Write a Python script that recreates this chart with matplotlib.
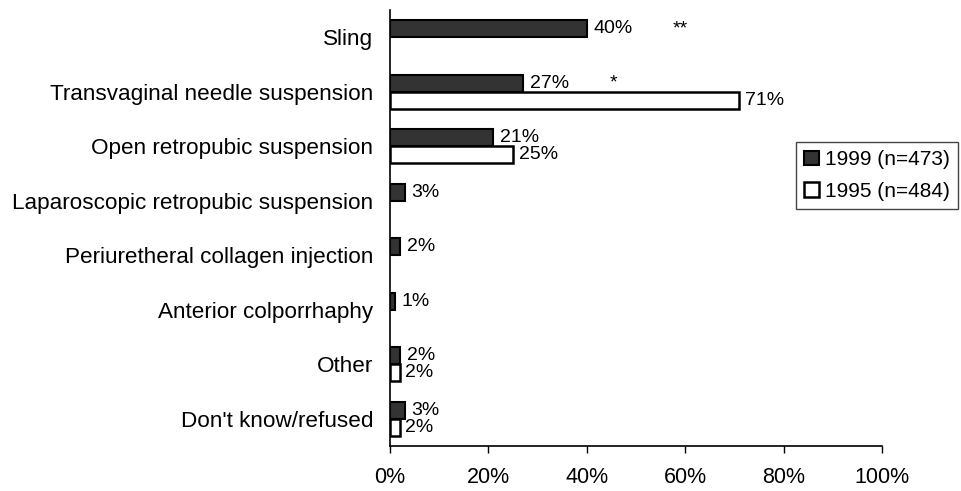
import numpy as np
import matplotlib
matplotlib.use('Agg')
import matplotlib.pyplot as plt

plt.rcParams['font.family'] = ['Liberation Sans', 'DejaVu Sans']

categories = ['Sling', 'Transvaginal needle suspension', 'Open retropubic suspension',
              'Laparoscopic retropubic suspension', 'Periuretheral collagen injection',
              'Anterior colporrhaphy', 'Other', "Don't know/refused"]
pct_1999 = [40, 27, 21, 3, 2, 1, 2, 3]
pct_1995 = [None, 71, 25, None, None, None, 2, 2]
labels_series = ['1999 (n=473)', '1995 (n=484)']
# significance marks: (category index, x position in %, text)
sig_marks = [(0, 57.5, '**'), (1, 44.7, '*')]
x_ticks = [0, 20, 40, 60, 80, 100]

fig = plt.figure(figsize=(9.61, 4.91), dpi=100)
ax = fig.add_axes([390 / 961, 1 - 446 / 491, 492 / 961, 436 / 491])

y = np.arange(len(categories))
h = 0.31

v99 = np.array(pct_1999, dtype=float)
v95 = np.array([np.nan if v is None else v for v in pct_1995], dtype=float)

b99 = ax.barh(y - h / 2, v99, height=h, color='#333333', edgecolor='black',
              linewidth=1.5, label=labels_series[0])
mask = ~np.isnan(v95)
b95 = ax.barh(y[mask] + h / 2, v95[mask], height=h, color='white', edgecolor='black',
              linewidth=1.8, label=labels_series[1])

for yi, v in zip(y, v99):
    ax.annotate(f'{v:.0f}%', (v, yi - h / 2), xytext=(5, 0), textcoords='offset points',
                va='center', ha='left', fontsize=14)
for yi, v in zip(y[mask], v95[mask]):
    ax.annotate(f'{v:.0f}%', (v, yi + h / 2), xytext=(4, 0), textcoords='offset points',
                va='center', ha='left', fontsize=14)

for i, xs, s in sig_marks:
    ax.text(xs, y[i] - h / 2, s, va='center', ha='left', fontsize=14)

ax.set_xlim(0, 100)
ax.set_ylim(len(categories) - 0.5, -0.5)
ax.set_yticks(y)
ax.set_yticklabels(categories, fontsize=16.2)
ax.set_xticks(x_ticks)
ax.set_xticklabels([f'{t}%' for t in x_ticks], fontsize=15.5)
ax.tick_params(axis='y', length=0, pad=12)
ax.tick_params(axis='x', length=5, width=1, pad=10, direction='out')
for side in ['top', 'right']:
    ax.spines[side].set_visible(False)
for side in ['left', 'bottom']:
    ax.spines[side].set_linewidth(1.2)

leg = fig.legend(handles=[b99, b95], labels=labels_series, loc='upper right',
                 bbox_to_anchor=(0.997, 0.711), bbox_transform=fig.transFigure,
                 fontsize=15, fancybox=False, framealpha=1, edgecolor='#444444',
                 handlelength=0.7, handleheight=0.7, handletextpad=0.3,
                 labelspacing=0.6, borderpad=0.4, borderaxespad=0)
leg.get_frame().set_linewidth(1.0)

fig.savefig('out.png', dpi=100)
